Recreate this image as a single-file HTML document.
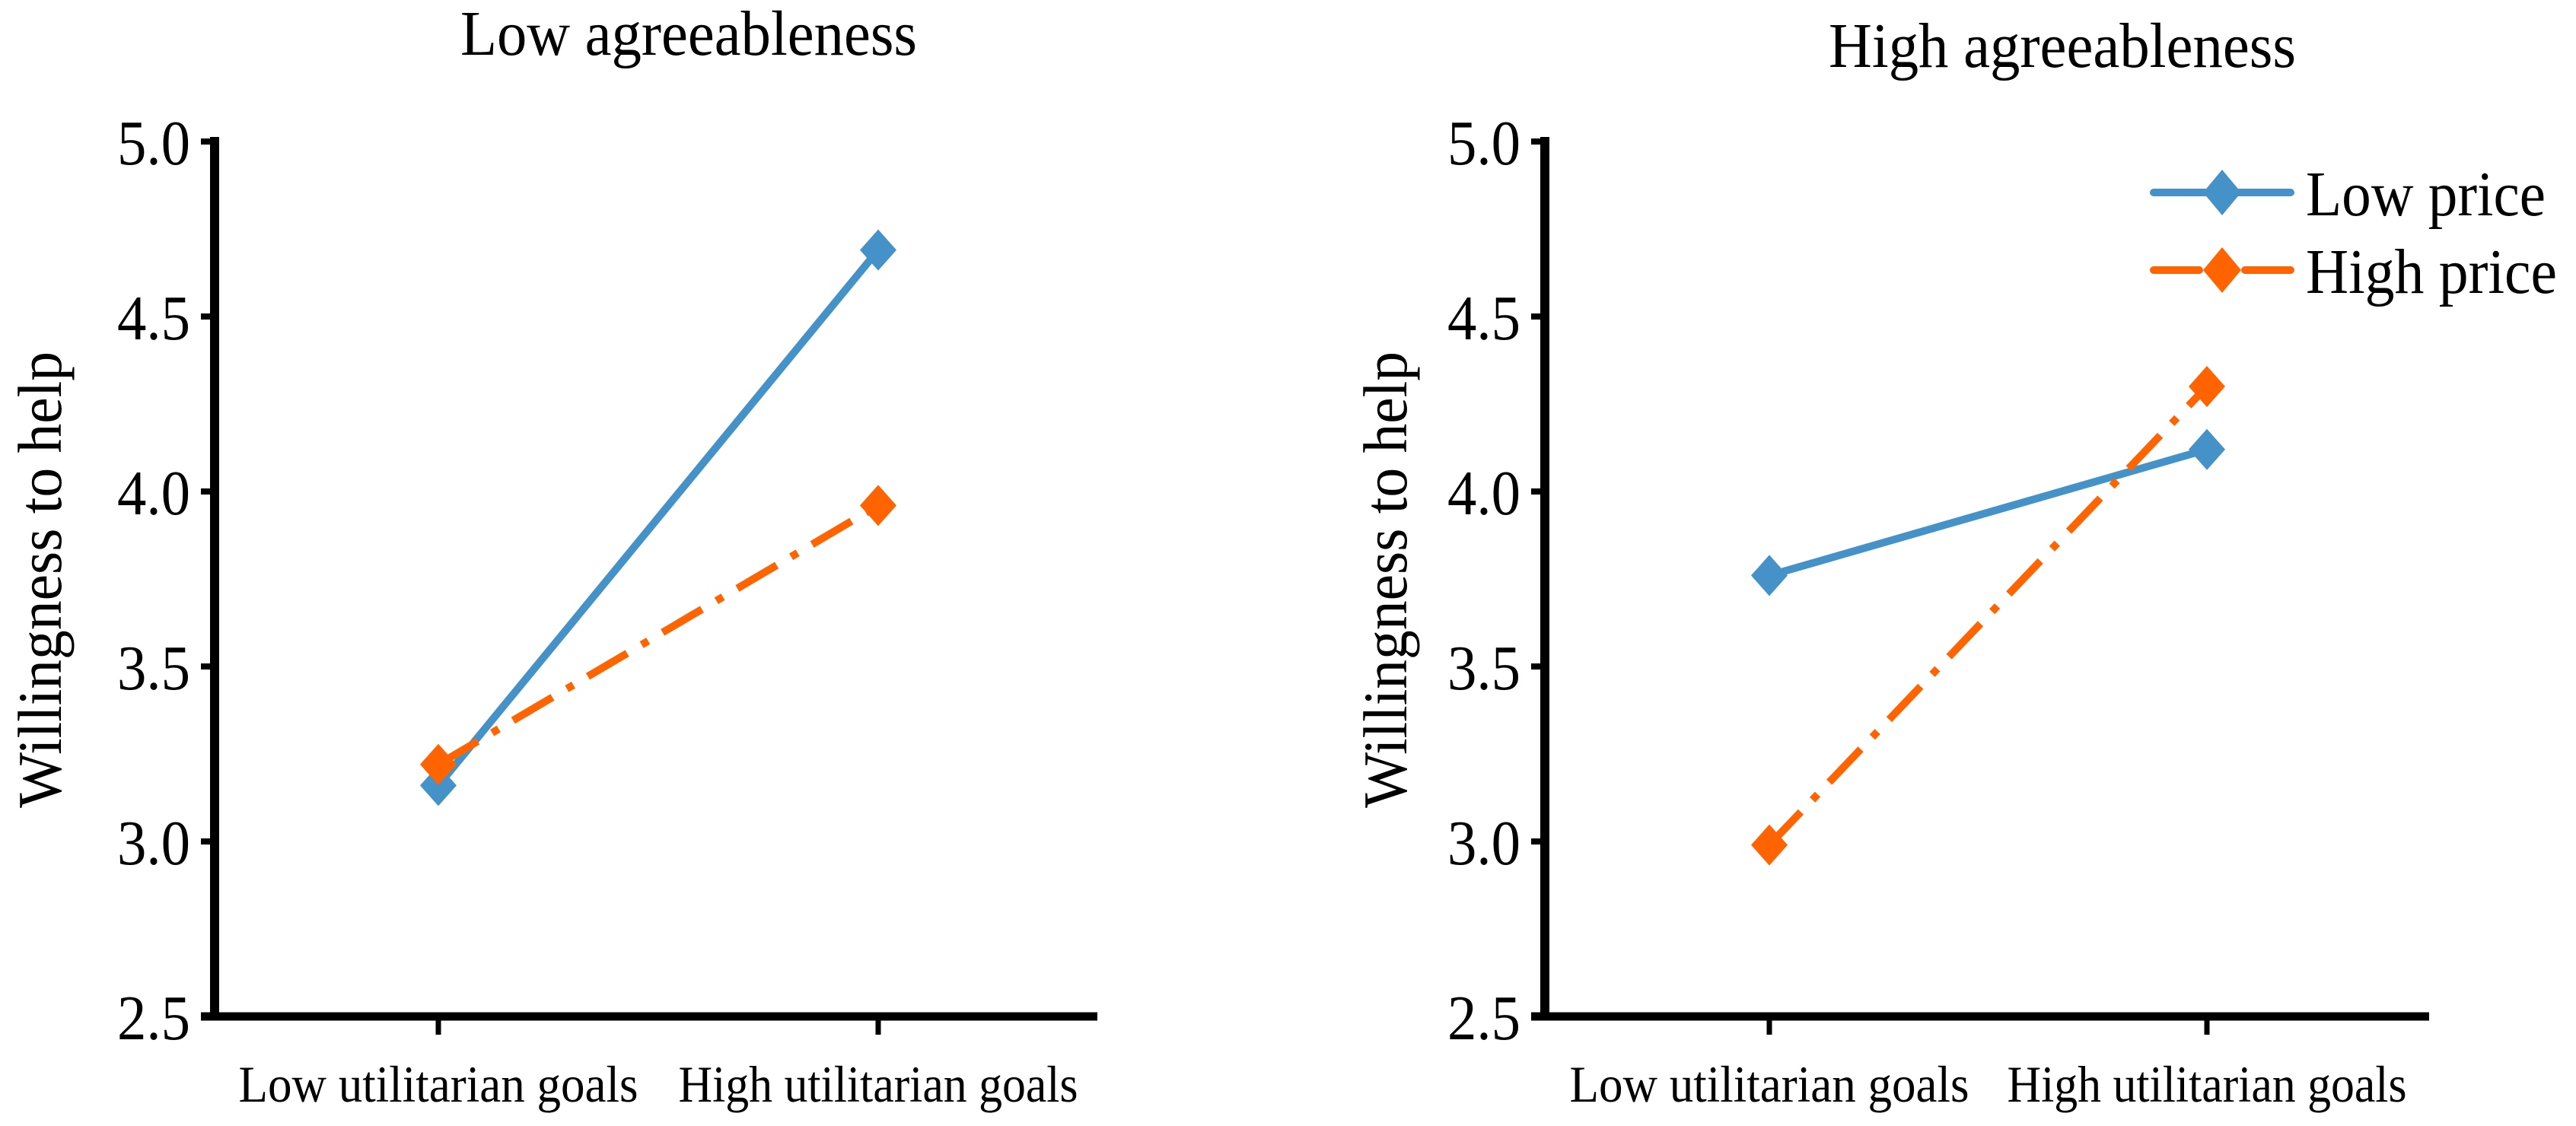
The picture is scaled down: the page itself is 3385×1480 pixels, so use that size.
<!DOCTYPE html>
<html><head><meta charset="utf-8"><style>
html,body{margin:0;padding:0;background:#fff;}
svg{display:block;}
text{font-family:"Liberation Serif","Times New Roman",serif;}
</style></head><body>
<svg id="chart" width="3385" height="1480" viewBox="0 0 3385 1480">
</svg>
<script>
const categories = ["Low utilitarian goals", "High utilitarian goals"];
const panelTitles = ["Low agreeableness", "High agreeableness"];
const seriesNames = ["Low price", "High price"];
const lowPriceLeft = [3.16, 4.69];
const highPriceLeft = [3.22, 3.96];
const lowPriceRight = [3.76, 4.12];
const highPriceRight = [2.99, 4.30];
const yTicks = [2.5, 3.0, 3.5, 4.0, 4.5, 5.0];
const yTickLabels = ["2.5", "3.0", "3.5", "4.0", "4.5", "5.0"];

const NS = "http://www.w3.org/2000/svg";
const FONT = '"Liberation Serif", "Times New Roman", serif';
const svg = document.getElementById('chart');
function mk(tag, attrs, parent, text){
  const e = document.createElementNS(NS, tag);
  for (const k in attrs) e.setAttribute(k, attrs[k]);
  if (tag === 'text') e.setAttribute('font-family', FONT);
  if (text !== undefined) e.textContent = text;
  (parent || svg).appendChild(e);
  return e;
}
const colors = ["#4592c8", "#ff6400"];
const dashes = ["none", "60 22 10 22"];
const yMin = 2.5, yMax = 5.0, yTop = 186, yBot = 1336;
function yScale(v){ return yBot - (v - yMin) / (yMax - yMin) * (yBot - yTop); }

const panels = [
  {ax: 282, xEnd: 1442, cats: [576, 1154], title: 905, titleY: 72, titleW: 600, data: [lowPriceLeft, highPriceLeft], ytx: 54},
  {ax: 2030, xEnd: 3192, cats: [2325, 2900], title: 2710, titleY: 88, titleW: 614, data: [lowPriceRight, highPriceRight], ytx: 1822}
];
function xScale(p, i){ return p.cats[0] + i * (p.cats[1] - p.cats[0]); }

panels.forEach((p, pi) => {
  const g = mk('g', {});
  
  
  const t = mk('text', {x: p.title, y: p.titleY, 'font-size': 84, 'text-anchor': 'middle', textLength: p.titleW, lengthAdjust: 'spacingAndGlyphs'}, g, panelTitles[pi]);
  
  
  const yt = mk('text', {x: 0, y: 0, 'font-size': 82, 'text-anchor': 'middle', textLength: 600, lengthAdjust: 'spacingAndGlyphs', transform: `translate(${p.ytx + 26},762) rotate(-90)`}, g, 'Willingness to help');
  
  
  const ya = mk('line', {x1: p.ax, y1: yTop - 6, x2: p.ax, y2: yBot + 5, stroke: '#000', 'stroke-width': 12}, g);
  
  
  const xa = mk('line', {x1: p.ax - 18, y1: yBot, x2: p.xEnd, y2: yBot, stroke: '#000', 'stroke-width': 11}, g);
  
  
  yTicks.forEach((v, i) => {
    const y = yScale(v);
    const tk = mk('line', {x1: p.ax - 18, y1: y, x2: p.ax, y2: y, stroke: '#000', 'stroke-width': 8}, g);
    
    
    const lb = mk('text', {x: p.ax - 32, y: y + 30, 'font-size': 84, 'text-anchor': 'end', textLength: 96, lengthAdjust: 'spacingAndGlyphs'}, g, yTickLabels[i]);
    
    
  });
  categories.forEach((c, i) => {
    const x = xScale(p, i);
    const tk = mk('line', {x1: x, y1: yBot, x2: x, y2: yBot + 24, stroke: '#000', 'stroke-width': 7}, g);
    
    
    const lb = mk('text', {x: x, y: yBot + 112, 'font-size': 68, 'text-anchor': 'middle', textLength: 525, lengthAdjust: 'spacingAndGlyphs'}, g, c);
    
    
  });
  p.data.forEach((vals, si) => {
    const pts = vals.map((v, i) => xScale(p, i) + ',' + yScale(v)).join(' ');
    const ln = mk('polyline', {points: pts, fill: 'none', stroke: colors[si], 'stroke-width': 10, 'stroke-dasharray': dashes[si]}, g);
    
    
  });
  p.data.forEach((vals, si) => {
    vals.forEach((v, i) => {
      const x = xScale(p, i), y = yScale(v);
      const m = mk('polygon', {points: `${x},${y-27} ${x+24},${y} ${x},${y+27} ${x-24},${y}`, fill: colors[si]}, g);
      
      
    });
  });
});

const lg = mk('g', {});


[253, 355].forEach((y, si) => {
  const e = mk('g', {}, lg);
  
  
  mk('line', {x1: 2830, y1: y, x2: 3010, y2: y, stroke: colors[si], 'stroke-width': 10, 'stroke-dasharray': si === 0 ? 'none' : '60 25 10 25', 'stroke-linecap': 'round'}, e);
  mk('polygon', {points: `2920,${y-30} 2945,${y} 2920,${y+30} 2895,${y}`, fill: colors[si]}, e);
  mk('text', {x: 3030, y: y + 30, 'font-size': 84, textLength: si === 0 ? 315 : 330, lengthAdjust: 'spacingAndGlyphs'}, e, seriesNames[si]);
});
</script>
</body></html>
